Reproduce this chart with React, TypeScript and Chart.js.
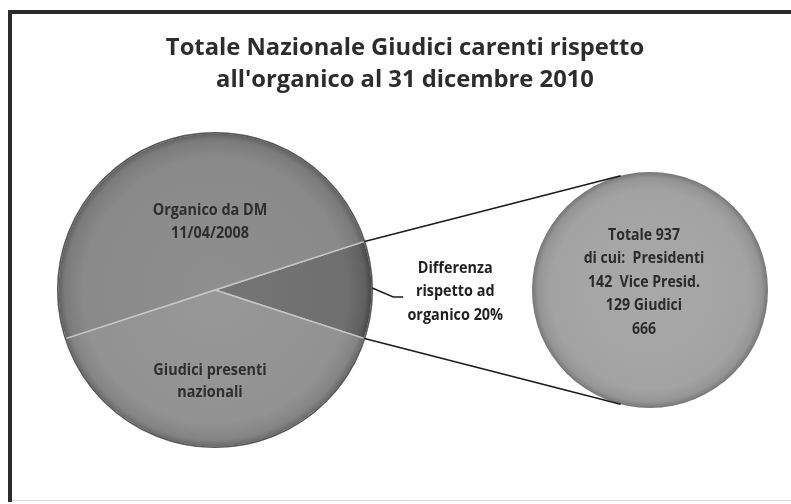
import React, { useEffect, useRef } from 'react';
import { Chart, registerables } from 'chart.js';

Chart.register(...registerables);

const titleLines = ['Totale Nazionale Giudici carenti rispetto', "all'organico al 31 dicembre 2010"];
const mainLabels = ['Differenza rispetto ad organico 20%', 'Giudici presenti nazionali', 'Organico da DM 11/04/2008'];
const mainValues = [937, 3748, 4685];
const mainLabelLines = [
  ['Differenza', 'rispetto ad', 'organico 20%'],
  ['Giudici presenti', 'nazionali'],
  ['Organico da DM', '11/04/2008'],
];
const secondaryLabels = ['Totale 937'];
const secondaryValues = [937];
const breakdownLabels = ['Presidenti', 'Vice Presid.', 'Giudici'];
const breakdownValues = [142, 129, 666];

const mainColors = ['#6f6f6f', '#929292', '#898989'];
const secondaryColors = ['#a3a3a3'];

const W = 791;
const H = 504;

function shade(hex: string, amt: number) {
  const n = parseInt(hex.slice(1), 16);
  const r = Math.max(0, Math.min(255, ((n >> 16) & 255) + amt));
  const g = Math.max(0, Math.min(255, ((n >> 8) & 255) + amt));
  const b = Math.max(0, Math.min(255, (n & 255) + amt));
  return `rgb(${r},${g},${b})`;
}

function makeFill(c: any, base: string) {
  const chart = c.chart;
  const a = chart.chartArea;
  if (!a) return base;
  const cx = (a.left + a.right) / 2;
  const cy = (a.top + a.bottom) / 2;
  const r = Math.min(a.right - a.left, a.bottom - a.top) / 2;
  const g = chart.ctx.createRadialGradient(cx, cy, 0, cx, cy, r);
  g.addColorStop(0, shade(base, 6));
  g.addColorStop(0.84, base);
  g.addColorStop(0.95, shade(base, -14));
  g.addColorStop(1, shade(base, -45));
  return g;
}

function tangentPoint(px: number, py: number, cx: number, cy: number, r: number, sign: number) {
  const dx = px - cx;
  const dy = py - cy;
  const d = Math.hypot(dx, dy);
  const th = Math.atan2(dy, dx);
  const a = Math.acos(Math.min(1, r / d));
  const t = th + sign * a;
  return [cx + r * Math.cos(t), cy + r * Math.sin(t)];
}

function drawText(ctx: CanvasRenderingContext2D, t: string, x: number, y: number, sx: number) {
  ctx.save();
  ctx.translate(x, y);
  ctx.scale(sx, 1);
  ctx.fillText(t, 0, 0);
  ctx.restore();
}

const LABEL_FONT = 'bold 16px "Open Sans"';

export default function App() {
  const mainRef = useRef<HTMLCanvasElement | null>(null);
  const secRef = useRef<HTMLCanvasElement | null>(null);

  useEffect(() => {
    if (!mainRef.current || !secRef.current) return;
    const holder: { main: any } = { main: null };

    const framePlugin = {
      id: 'frameTitle',
      beforeDraw(chart: any) {
        const ctx = chart.ctx;
        ctx.save();
        ctx.fillStyle = '#ffffff';
        ctx.fillRect(0, 0, chart.width, chart.height);
        ctx.strokeStyle = '#d8d8d8';
        ctx.lineWidth = 1;
        ctx.beginPath();
        ctx.moveTo(10, 500.5);
        ctx.lineTo(chart.width, 500.5);
        ctx.stroke();
        ctx.strokeStyle = '#2b2b2b';
        ctx.lineWidth = 4;
        ctx.beginPath();
        ctx.moveTo(10, 502);
        ctx.lineTo(10, 12);
        ctx.lineTo(chart.width + 5, 12);
        ctx.stroke();
        ctx.fillStyle = '#2c2c2c';
        ctx.font = 'bold 24px "Open Sans"';
        ctx.textAlign = 'center';
        ctx.textBaseline = 'middle';
        titleLines.forEach((t, i) => drawText(ctx, t, 405, 48 + i * 32, 0.99));
        ctx.restore();
      },
    };

    const mainLabelPlugin = {
      id: 'mainLabels',
      afterDatasetsDraw(chart: any) {
        const ctx = chart.ctx;
        const arcs = chart.getDatasetMeta(0).data as any[];
        const a0 = arcs[0];
        const cx = a0.x;
        const cy = a0.y;
        const R = a0.outerRadius;
        ctx.save();
        ctx.strokeStyle = '#575757';
        ctx.lineWidth = 1.5;
        ctx.beginPath();
        ctx.arc(cx, cy, R, 0, Math.PI * 2);
        ctx.stroke();

        ctx.textAlign = 'center';
        ctx.textBaseline = 'middle';
        ctx.font = LABEL_FONT;
        ctx.fillStyle = '#2e2e2e';
        mainLabelLines[2].forEach((t, i) => drawText(ctx, t, cx - 5, cy - 80 + i * 23, 0.9));
        mainLabelLines[1].forEach((t, i) => drawText(ctx, t, cx - 5, cy + 80 + i * 22, 0.9));

        const m = (a0.startAngle + a0.endAngle) / 2;
        const ex = cx + R * Math.cos(m);
        const ey = cy + R * Math.sin(m);
        ctx.strokeStyle = '#1c1c1c';
        ctx.lineWidth = 1.5;
        ctx.beginPath();
        ctx.moveTo(ex, ey - 2);
        ctx.lineTo(ex + 21, ey + 7);
        ctx.lineTo(ex + 31, ey + 7);
        ctx.stroke();
        ctx.fillStyle = '#1f1f1f';
        mainLabelLines[0].forEach((t, i) => drawText(ctx, t, ex + 83, ey - 22 + i * 23.5, 0.9));
        ctx.restore();
      },
    };

    const secLines = [
      `Totale ${secondaryValues[0]}`,
      `di cui:  ${breakdownLabels[0]}`,
      `${breakdownValues[0]}  ${breakdownLabels[1]}`,
      `${breakdownValues[1]} ${breakdownLabels[2]}`,
      `${breakdownValues[2]}`,
    ];

    const secPlugin = {
      id: 'secLabels',
      afterDatasetsDraw(chart: any) {
        const ctx = chart.ctx;
        const s = (chart.getDatasetMeta(0).data as any[])[0];
        const main = holder.main;
        ctx.save();
        if (main) {
          const a0 = (main.getDatasetMeta(0).data as any[])[0];
          const R = a0.outerRadius;
          const p1x = a0.x + R * Math.cos(a0.startAngle);
          const p1y = a0.y + R * Math.sin(a0.startAngle);
          const p2x = a0.x + R * Math.cos(a0.endAngle);
          const p2y = a0.y + R * Math.sin(a0.endAngle);
          const t1 = tangentPoint(p1x, p1y, s.x, s.y, s.outerRadius, 1);
          const t2 = tangentPoint(p2x, p2y, s.x, s.y, s.outerRadius, -1);
          ctx.strokeStyle = '#1a1a1a';
          ctx.lineWidth = 1.6;
          ctx.beginPath();
          ctx.moveTo(p1x, p1y);
          ctx.lineTo(t1[0], t1[1]);
          ctx.moveTo(p2x, p2y);
          ctx.lineTo(t2[0], t2[1]);
          ctx.stroke();
        }
        ctx.textAlign = 'center';
        ctx.textBaseline = 'middle';
        ctx.font = LABEL_FONT;
        ctx.fillStyle = '#2b2b2b';
        secLines.forEach((t, i) => drawText(ctx, t, s.x - 6, s.y - 55 + i * 23.5, 0.88));
        ctx.restore();
      },
    };

    const main = new Chart(mainRef.current, {
      type: 'pie',
      data: {
        labels: mainLabels,
        datasets: [
          {
            data: mainValues,
            backgroundColor: (c: any) => makeFill(c, mainColors[c.dataIndex]),
            borderColor: '#c6c6c6',
            borderWidth: 1.5,
          },
        ],
      },
      options: {
        responsive: false,
        animation: false,
        events: [],
        rotation: 72,
        layout: { padding: { left: 57, right: 418, top: 132, bottom: 56 } },
        plugins: { legend: { display: false }, tooltip: { enabled: false }, title: { display: false } },
      },
      plugins: [framePlugin, mainLabelPlugin],
    } as any);
    holder.main = main;

    const sec = new Chart(secRef.current, {
      type: 'pie',
      data: {
        labels: secondaryLabels,
        datasets: [
          {
            data: secondaryValues,
            backgroundColor: (c: any) => makeFill(c, secondaryColors[c.dataIndex]),
            borderWidth: 0,
          },
        ],
      },
      options: {
        responsive: false,
        animation: false,
        events: [],
        layout: { padding: { left: 532, right: 23, top: 172, bottom: 96 } },
        plugins: { legend: { display: false }, tooltip: { enabled: false }, title: { display: false } },
      },
      plugins: [secPlugin],
    } as any);

    return () => {
      sec.destroy();
      main.destroy();
    };
  }, []);

  const cs: React.CSSProperties = { position: 'absolute', left: 0, top: 0, width: W, height: H };
  return (
    <div style={{ position: 'absolute', left: 0, top: 0, width: W, height: H, overflow: 'hidden', background: '#fff' }}>
      <canvas ref={mainRef} width={W} height={H} style={cs} />
      <canvas ref={secRef} width={W} height={H} style={cs} />
    </div>
  );
}
